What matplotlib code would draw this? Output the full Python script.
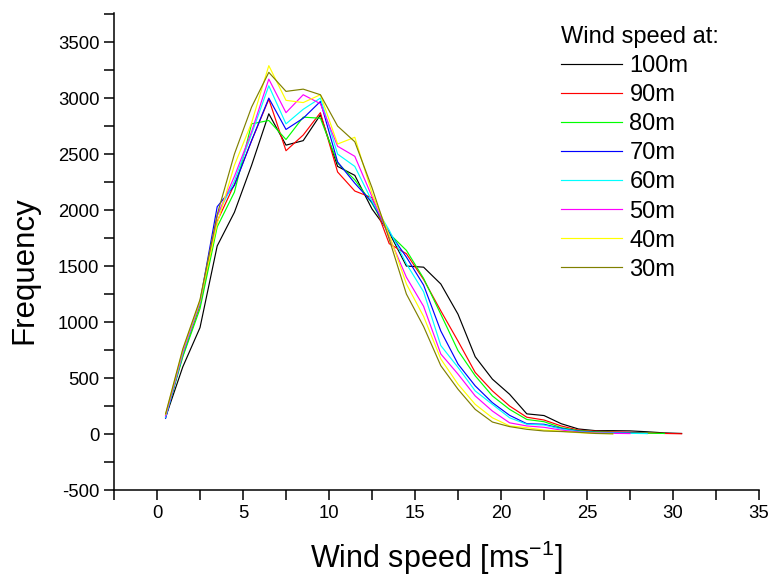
import numpy as np
import matplotlib
matplotlib.use('Agg')
from matplotlib import pyplot as plt
from matplotlib.ticker import MultipleLocator

plt.rcParams['font.family'] = ['Liberation Sans', 'DejaVu Sans']
plt.rcParams['axes.unicode_minus'] = False

# wind speed bins [m/s]
speed = [0.5, 1.5, 2.5, 3.5, 4.5, 5.5, 6.5, 7.5, 8.5, 9.5, 10.5, 11.5, 12.5, 13.5, 14.5, 15.5,
         16.5, 17.5, 18.5, 19.5, 20.5, 21.5, 22.5, 23.5, 24.5, 25.5, 26.5, 27.5, 28.5, 29.5, 30.5]

f100 = [150, 600, 950, 1680, 1980, 2400, 2860, 2580, 2620, 2850, 2390, 2310, 2010, 1800, 1500, 1490,
        1340, 1070, 690, 490, 355, 180, 165, 92, 45, 30, 30, 28, 20, 10, 5]
f90 = [170, 700, 1150, 1900, 2230, 2620, 2990, 2530, 2670, 2870, 2340, 2170, 2110, 1700, 1610, 1380,
       1100, 830, 550, 385, 250, 150, 125, 72, 35, 25, 20, 15, 10, 5, 2]
f80 = [150, 690, 1120, 1850, 2160, 2770, 2800, 2630, 2830, 2820, 2420, 2270, 2060, 1790, 1640, 1390,
       1070, 745, 520, 340, 220, 130, 110, 57, 30, 20, 15, 10, 8, 5]
f70 = [140, 720, 1180, 2030, 2220, 2620, 3000, 2720, 2820, 2970, 2430, 2240, 2070, 1800, 1580, 1330,
       920, 625, 430, 280, 167, 92, 87, 50, 25, 15, 12, 8, 5]
f60 = [150, 720, 1170, 1950, 2260, 2680, 3110, 2770, 2900, 3000, 2500, 2390, 2080, 1820, 1520, 1270,
       790, 595, 385, 265, 145, 87, 80, 45, 22, 12, 10, 6, 4]
f50 = [160, 730, 1180, 1950, 2300, 2700, 3170, 2870, 3030, 2950, 2570, 2480, 2120, 1760, 1400, 1140,
       715, 535, 340, 205, 100, 72, 60, 35, 18, 10, 6, 4]
f40 = [175, 750, 1190, 1880, 2400, 2780, 3290, 2980, 2960, 3030, 2590, 2650, 2150, 1780, 1340, 1050,
       670, 445, 265, 145, 72, 57, 35, 25, 12, 6, 3]
f30 = [180, 760, 1200, 1960, 2500, 2920, 3230, 3060, 3080, 3030, 2750, 2610, 2200, 1740, 1250, 960,
       610, 400, 220, 107, 66, 42, 27, 22, 15, 5, 2]

labels = ['100m', '90m', '80m', '70m', '60m', '50m', '40m', '30m']
series = [f100, f90, f80, f70, f60, f50, f40, f30]
colors = ['black', '#ff0000', '#00ff00', '#0000ff', '#00ffff', '#ff00ff', '#ffff00', '#808000']

fig = plt.figure(figsize=(7.7, 5.77), dpi=100)
ax = fig.add_axes([114/770, 1-490/577, (759-114)/770, (490-13)/577])

for y, lab, c in zip(series, labels, colors):
    ax.plot(speed[:len(y)], y, color=c, lw=0.85, label=lab)

ax.set_xlim(-2.5, 35)
ax.set_ylim(-500, 3760)
ax.xaxis.set_major_locator(MultipleLocator(5))
ax.xaxis.set_minor_locator(MultipleLocator(2.5))
ax.yaxis.set_major_locator(MultipleLocator(500))
ax.yaxis.set_minor_locator(MultipleLocator(250))
for s in ['top', 'right']:
    ax.spines[s].set_visible(False)
for s in ['left', 'bottom']:
    ax.spines[s].set_linewidth(1.1)
ax.tick_params(which='major', direction='out', length=7.5, width=1.1, labelsize=13.3, pad=3)
ax.tick_params(which='minor', direction='out', length=7.5, width=1.1)

ax.set_xlabel('Wind speed [ms$^{\\mathregular{-1}}$]', fontsize=22, labelpad=12)
ax.set_ylabel('Frequency', fontsize=22.5)
ax.yaxis.set_label_coords(-0.115, 0.46)

leg = ax.legend(title='Wind speed at:', loc='upper left', bbox_to_anchor=(561/770, 1-26/577),
                bbox_transform=fig.transFigure, frameon=False, fontsize=17, title_fontsize=17,
                alignment='left', handlelength=2.6, handletextpad=0.3, labelspacing=0.3,
                borderpad=0, borderaxespad=0)

plt.savefig('out.png', dpi=100)
